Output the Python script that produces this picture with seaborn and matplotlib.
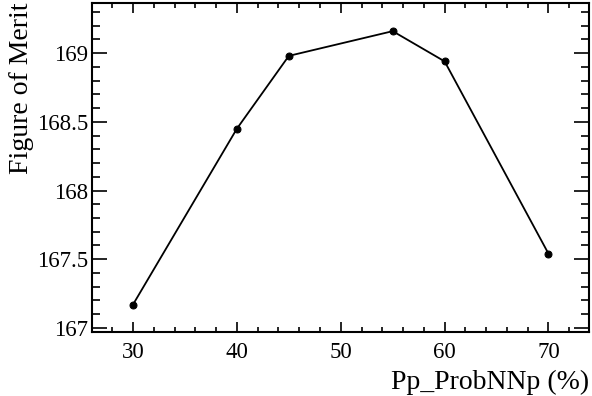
import matplotlib
matplotlib.use("Agg")
import matplotlib.pyplot as plt
import seaborn as sns
import pandas as pd
from matplotlib.ticker import MultipleLocator

cuts = [30, 40, 45, 55, 60, 70]
fom = [167.17, 168.45, 168.98, 169.16, 168.94, 167.54]
x_label = "Pp_ProbNNp (%)"
y_label = "Figure of Merit"

sns.set_style("ticks", {"axes.edgecolor": "black", "text.color": "black",
                        "xtick.color": "black", "ytick.color": "black",
                        "axes.labelcolor": "black"})
plt.rcParams['font.family'] = ['Liberation Serif', 'DejaVu Serif']

df = pd.DataFrame({"cut": cuts, "fom": fom})

fig = plt.figure(figsize=(5.92, 3.96), dpi=100)
ax = fig.add_axes([92/592, 1 - 332/396, (589-92)/592, (332-3)/396])

sns.lineplot(data=df, x="cut", y="fom", ax=ax, color="black", lw=1.3,
             marker="o", markersize=5, markeredgecolor="black")

ax.set_xlim(26.05, 73.9)
ax.set_ylim(166.97, 169.365)
ax.xaxis.set_major_locator(MultipleLocator(10))
ax.xaxis.set_minor_locator(MultipleLocator(2))
ax.yaxis.set_major_locator(MultipleLocator(0.5))
ax.yaxis.set_minor_locator(MultipleLocator(0.1))
ax.yaxis.set_major_formatter(matplotlib.ticker.FuncFormatter(lambda v, p: f"{v:g}"))

ax.tick_params(axis="x", which="major", direction="in", length=7, width=1.2,
               top=True, bottom=True, labelsize=16.5, pad=7, colors="black")
ax.tick_params(axis="x", which="minor", direction="in", length=3.5, width=1.2,
               top=True, bottom=True, colors="black")
ax.tick_params(axis="y", which="major", direction="in", length=11, width=1.2,
               left=True, right=True, labelsize=16.5, pad=3, colors="black")
ax.tick_params(axis="y", which="minor", direction="in", length=6, width=1.2,
               left=True, right=True, colors="black")
for s in ax.spines.values():
    s.set_linewidth(1.5)
    s.set_color("black")
    s.set_visible(True)

ax.set_xlabel(x_label, fontsize=20, loc="right", labelpad=5, color="black")
ax.set_ylabel(y_label, fontsize=20, loc="top", labelpad=2, color="black")

fig.savefig("out.png", dpi=100)
